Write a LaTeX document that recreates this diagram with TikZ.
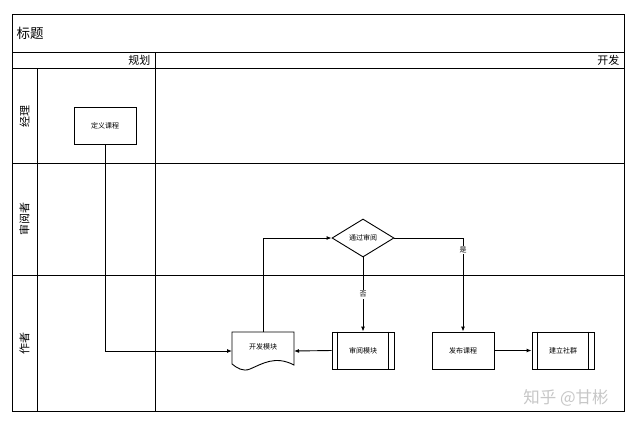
\documentclass[tikz,border=0pt]{standalone}
\usepackage{fontspec}
\setmainfont{Noto Sans CJK SC}
\usetikzlibrary{arrows.meta,shapes.geometric,calc}
\tikzset{
  ln/.style={line width=0.9pt},
  proc/.style={draw,line width=0.9pt,minimum width=62pt,minimum height=37pt,inner sep=0pt,font=\fontsize{7}{8}\selectfont},
  arr/.style={line width=0.9pt,-{Latex[length=5pt,width=4pt]}},
  lbl/.style={font=\fontsize{11}{12}\selectfont},
  small/.style={font=\fontsize{7}{8}\selectfont},
}
\begin{document}
\begin{tikzpicture}[x=1pt,y=-1pt]
\useasboundingbox[fill=white] (0,0) rectangle (631,424);
% frame
\draw[ln] (12,14) rectangle (624,411);
\draw[ln] (12,52) -- (624,52);
\draw[ln] (12,68) -- (624,68);
\draw[ln] (37,68) -- (37,411);
\draw[ln] (155,52) -- (155,411);
\draw[ln] (37,163) -- (624,163);
\draw[ln] (37,275) -- (624,275);
\draw[ln] (12,163) -- (37,163);
\draw[ln] (12,275) -- (37,275);
% texts
\node[anchor=west,font=\fontsize{13.5}{14}\selectfont] (title) at (13,33) {标题};
\node[anchor=east,lbl] (h1) at (154,60) {规划};
\node[anchor=east,lbl] (h2) at (623,60) {开发};
\node[lbl,rotate=90] (l1) at (24.5,116) {经理};
\node[lbl,rotate=90] (l2) at (24.5,219) {审阅者};
\node[lbl,rotate=90] (l3) at (24.5,343) {作者};
% nodes
\node[proc] (def) at (105,125.5) {定义课程};
% document shape
\coordinate (devL) at (232,351);
\coordinate (devR) at (294,351);
\coordinate (devT) at (263,332);
\draw[ln] (232,364) -- (232,332) -- (294,332) -- (294,365)
  .. controls (275,355) and (262,364) .. (250,369)
  .. controls (243,372) and (237,368) .. (232,364);
\node[small] (dev) at (263,347) {开发模块};
\node[proc] (rev) at (363,350.5) {审阅模块};
\draw[ln] ([xshift=6pt]rev.north west) -- ([xshift=6pt]rev.south west);
\draw[ln] ([xshift=-6pt]rev.north east) -- ([xshift=-6pt]rev.south east);
\node[proc] (pub) at (463,350.5) {发布课程};
\node[proc] (com) at (563,350.5) {建立社群};
\draw[ln] ([xshift=6pt]com.north west) -- ([xshift=6pt]com.south west);
\draw[ln] ([xshift=-6pt]com.north east) -- ([xshift=-6pt]com.south east);
\node[draw,ln,diamond,aspect=1.63,minimum width=62pt,minimum height=38pt,inner sep=0pt,small] (dec) at (363,238) {通过审阅};
% connectors
\draw[arr] (def.south) |- (devL);
\draw[arr] (devT) |- (dec.west);
\draw[arr] (dec.south) -- node[pos=0.5,fill=white,inner sep=1pt,small] (no) {否} (rev.north);
\draw[arr] (dec.east) -| node[pos=0.565,fill=white,inner sep=1pt,small] (yes) {是} (pub.north);
\draw[arr] (rev.west) -- (devR);
\draw[arr] (pub.east) -- (com.west);
% watermark
\node[text=black!22,font=\fontsize{16.5}{17}\selectfont] (wm) at (566,398) {知乎 @甘彬};
\end{tikzpicture}
\end{document}
